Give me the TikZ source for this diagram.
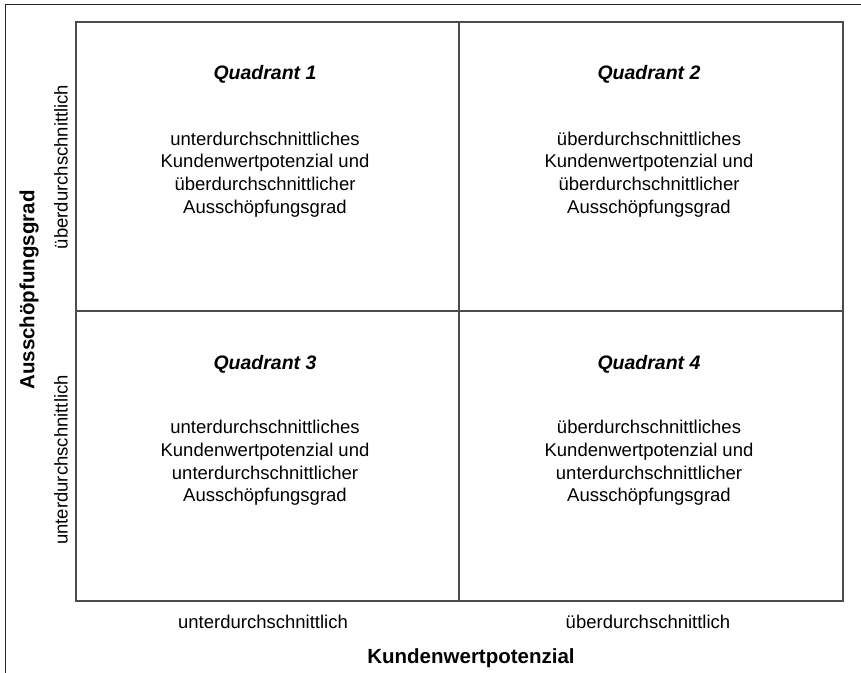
\documentclass[tikz,border=0pt]{standalone}
\usepackage{fontspec}
\setmainfont{Liberation Sans}
\tikzset{
  quadtitle/.style={font=\fontsize{19.5}{23}\selectfont\bfseries\itshape},
  quadtext/.style={align=center,font=\fontsize{18.5}{22.7}\selectfont},
  axisval/.style={font=\fontsize{18.5}{22}\selectfont},
  axistitle/.style={font=\fontsize{20.5}{24}\selectfont\bfseries},
  gridline/.style={draw=black!70,line width=1.3pt}
}
\begin{document}
\begin{tikzpicture}[x=1pt,y=-1pt]
  \useasboundingbox (0,0) rectangle (861,672);
  % outer frame
  \draw[line width=1pt,black!85] (5,680)--(5,4)--(870,4);
  % matrix
  \draw[gridline] (76,22) rectangle (843,601);
  \draw[gridline] (459,22)--(459,601);
  \draw[gridline] (76,311)--(843,311);
  % quadrants
  \node[quadtitle] (t1) at (265,74) {Quadrant 1};
  \node[quadtext] (q1) at (265,174.5) {unterdurchschnittliches\\Kundenwertpotenzial und\\überdurchschnittlicher\\Ausschöpfungsgrad};
  \node[quadtitle] (t2) at (649,74) {Quadrant 2};
  \node[quadtext] (q2) at (649,174.5) {überdurchschnittliches\\Kundenwertpotenzial und\\überdurchschnittlicher\\Ausschöpfungsgrad};
  \node[quadtitle] (t3) at (265,364.5) {Quadrant 3};
  \node[quadtext] (q3) at (265,463) {unterdurchschnittliches\\Kundenwertpotenzial und\\unterdurchschnittlicher\\Ausschöpfungsgrad};
  \node[quadtitle] (t4) at (649,364.5) {Quadrant 4};
  \node[quadtext] (q4) at (649,463) {überdurchschnittliches\\Kundenwertpotenzial und\\unterdurchschnittlicher\\Ausschöpfungsgrad};
  % axes
  \node[axisval] (xlow) at (263,622) {unterdurchschnittlich};
  \node[axisval] (xhigh) at (648,622) {überdurchschnittlich};
  \node[axistitle] (xname) at (471,658) {Kundenwertpotenzial};
  \node[axisval,rotate=90] (yhigh) at (61,167) {überdurchschnittlich};
  \node[axisval,rotate=90] (ylow) at (61,460) {unterdurchschnittlich};
  \node[axistitle,rotate=90] (yname) at (29,290) {Ausschöpfungsgrad};
\end{tikzpicture}
\end{document}
